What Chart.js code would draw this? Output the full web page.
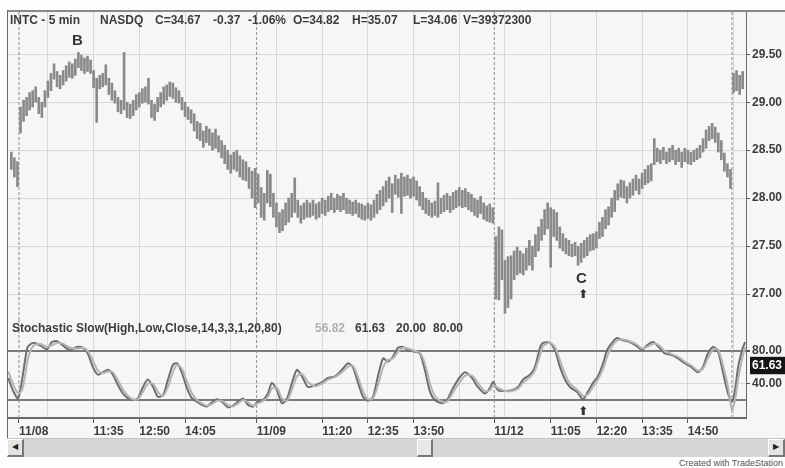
<!DOCTYPE html>
<html>
<head>
<meta charset="utf-8">
<title>INTC - 5 min</title>
<script src="https://cdn.jsdelivr.net/npm/chart.js@4.4.0/dist/chart.umd.min.js"></script>
<style>
body { margin:0; background:#fdfdfd; }
#page { position:relative; width:785px; height:468px; overflow:hidden; font-family:"Liberation Sans", Arial, sans-serif; }
#panel { position:absolute; left:7px; top:12px; width:778px; height:426px; background:#f6f6f6; }
#topLine { position:absolute; left:7px; top:10px; width:778px; height:2px; background:#8a8a8a; }
#leftLine { position:absolute; left:7px; top:10px; width:1px; height:428px; background:#6a6a6a; }
canvas { position:absolute; left:0; }
.txt { position:absolute; white-space:nowrap; font-weight:bold; font-size:12px; line-height:12px; color:#3c3c3c; }
.big { font-size:15px; line-height:16px; color:#333; }
.arrow { font-family:"DejaVu Sans", sans-serif; font-size:12px; line-height:12px; color:#333; }
#scroll { position:absolute; left:7px; top:438px; width:778px; height:19px; background:#d6d6d6; border-top:1px solid #c4c4c4; box-sizing:border-box; }
.btn { position:absolute; top:0; width:17px; height:18px; background:#e4e4e4; border-right:2px solid #777; border-bottom:2px solid #777; border-top:1px solid #fff; border-left:1px solid #fff; box-sizing:border-box; font-family:"DejaVu Sans", sans-serif; font-size:8px; line-height:14px; text-align:center; color:#222; }
#thumb { position:absolute; left:410px; top:0; width:16px; height:18px; background:#e8e8e8; border-right:2px solid #777; border-bottom:2px solid #777; border-top:1px solid #fff; border-left:1px solid #fff; box-sizing:border-box; }
#credit { position:absolute; right:2px; top:458px; font-size:9px; line-height:10px; color:#555; white-space:nowrap; }
</style>
</head>
<body>
<div id="page">
    <div id="panel"></div>
    <div id="topLine"></div>
    <canvas id="canvasPrix" width="785" height="320" style="top:0"></canvas>
    <canvas id="canvasStoch" width="785" height="118" style="top:320px"></canvas>
    <div id="leftLine"></div>

    <div class="txt" style="left:10px;top:14px">INTC - 5 min</div>
    <div class="txt" style="left:100px;top:14px">NASDQ</div>
    <div class="txt" style="left:155px;top:14px">C=34.67</div>
    <div class="txt" style="left:213px;top:14px">-0.37</div>
    <div class="txt" style="left:248px;top:14px">-1.06%</div>
    <div class="txt" style="left:293px;top:14px">O=34.82</div>
    <div class="txt" style="left:352px;top:14px">H=35.07</div>
    <div class="txt" style="left:413px;top:14px">L=34.06</div>
    <div class="txt" style="left:463px;top:14px">V=39372300</div>

    <div class="txt big" style="left:72px;top:32px">B</div>
    <div class="txt big" style="left:576px;top:270px">C</div>
    <div class="txt arrow" style="left:578px;top:288px">&#11014;</div>

    <div class="txt" style="left:12px;top:322px">Stochastic Slow(High,Low,Close,14,3,3,1,20,80)</div>
    <div class="txt" style="left:315px;top:322px;color:#b0b0b0">56.82</div>
    <div class="txt" style="left:355px;top:322px">61.63</div>
    <div class="txt" style="left:396px;top:322px">20.00</div>
    <div class="txt" style="left:433px;top:322px">80.00</div>
    <div class="txt arrow" style="left:578px;top:405px">&#11014;</div>

    <div id="scroll">
        <div class="btn" style="left:0">&#9664;</div>
        <div id="thumb"></div>
        <div class="btn" style="left:761px">&#9654;</div>
    </div>
    <div id="credit">Created with TradeStation</div>
</div>

<script>
// Dates des séances et séparateurs de jours (index de barre)
var dayDates = ["11/08", "11/09", "11/12"];
var daySeps = [2.5, 80.5, 158.5, 236.5];

// Lignes verticales toutes les 15 barres et leurs libellés
var timeTicks = [12, 27, 42, 57, 72, 87, 102, 117, 132, 147, 162, 177, 192, 207, 222, 237];
var timeLabels = ["", "11:35", "12:50", "14:05", "", "", "11:20", "12:35", "13:50", "", "", "11:05", "12:20", "13:35", "14:50", ""];

// Graduations des axes de droite
var priceTicks = [27.00, 27.50, 28.00, 28.50, 29.00, 29.50];
var stochLevels = [20, 40, 80];
var stochLast = 61.63;

// Barres 5 min : plus hauts et plus bas (3 barres veille, 3 x 78 barres, 4 barres lendemain)
var highs = [
    28.48, 28.42, 28.38,
    28.95, 29.02, 29.05, 29.10, 29.12, 29.16, 29.05, 29.00, 29.12, 29.22,
    29.30, 29.40, 29.32, 29.28, 29.33, 29.38, 29.42, 29.40, 29.45, 29.52,
    29.49, 29.46, 29.48, 29.44, 29.33, 29.25, 29.28, 29.30, 29.39, 29.25,
    29.20, 29.12, 29.05, 29.02, 29.52, 29.00, 28.98, 29.02, 29.08, 29.10,
    29.14, 29.16, 29.25, 29.02, 28.98, 29.05, 29.10, 29.16, 29.18, 29.21,
    29.20, 29.15, 29.12, 29.05, 29.00, 28.95, 28.92, 28.88, 28.80, 28.78,
    28.70, 28.75, 28.72, 28.68, 28.72, 28.65, 28.60, 28.55, 28.50, 28.45,
    28.48, 28.50, 28.44, 28.40, 28.38, 28.32, 28.28, 28.31,
    28.25, 28.11, 28.05, 28.29, 28.25, 28.05, 27.95, 27.85, 27.88, 27.95,
    28.00, 28.05, 28.21, 27.98, 27.92, 27.95, 27.98, 27.95, 27.98, 27.94,
    27.96, 28.00, 27.98, 28.02, 28.05, 28.00, 28.04, 28.02, 28.05, 28.00,
    27.98, 27.96, 27.98, 27.95, 27.94, 27.92, 27.95, 27.93, 27.98, 28.04,
    28.08, 28.12, 28.18, 28.22, 28.15, 28.24, 28.20, 28.26, 28.22, 28.24,
    28.20, 28.22, 28.18, 28.12, 28.06, 28.00, 27.98, 27.95, 27.97, 28.16,
    28.00, 28.03, 28.05, 28.02, 28.06, 28.08, 28.11, 28.08, 28.10, 28.06,
    28.04, 28.00, 27.98, 28.02, 27.95, 27.92, 27.94, 27.90,
    27.60, 27.70, 27.67, 27.35, 27.39, 27.40, 27.45, 27.49, 27.45, 27.42,
    27.48, 27.56, 27.50, 27.62, 27.70, 27.78, 27.88, 27.95, 27.90, 27.88,
    27.85, 27.70, 27.63, 27.58, 27.56, 27.52, 27.54, 27.50, 27.53, 27.56,
    27.59, 27.62, 27.63, 27.65, 27.75, 27.80, 27.88, 27.91, 28.00, 28.08,
    28.15, 28.19, 28.18, 28.12, 28.16, 28.20, 28.24, 28.20, 28.26, 28.30,
    28.34, 28.36, 28.62, 28.52, 28.50, 28.53, 28.48, 28.52, 28.55, 28.50,
    28.52, 28.48, 28.52, 28.50, 28.48, 28.50, 28.52, 28.55, 28.62, 28.71,
    28.75, 28.78, 28.74, 28.68, 28.60, 28.47, 28.36, 28.30,
    29.30, 29.33, 29.28, 29.32
];
var lows = [
    28.30, 28.22, 28.12,
    28.68, 28.80, 28.86, 28.92, 28.95, 29.00, 28.88, 28.84, 28.95, 29.05,
    29.12, 29.24, 29.16, 29.14, 29.18, 29.22, 29.26, 29.25, 29.28, 29.36,
    29.33, 29.30, 29.32, 29.30, 29.15, 28.79, 29.14, 29.16, 29.18, 29.08,
    29.02, 28.99, 28.90, 28.88, 28.92, 28.84, 28.83, 28.86, 28.92, 28.95,
    28.99, 29.00, 28.98, 28.84, 28.81, 28.90, 28.95, 28.98, 29.02, 29.06,
    29.04, 29.00, 28.99, 28.92, 28.85, 28.82, 28.78, 28.70, 28.62, 28.60,
    28.53, 28.58, 28.55, 28.50, 28.52, 28.48, 28.42, 28.36, 28.30, 28.26,
    28.30, 28.28, 28.22, 28.19, 28.18, 28.10, 28.00, 27.90,
    27.95, 27.80, 27.77, 27.95, 27.91, 27.80, 27.70, 27.64, 27.66, 27.72,
    27.75, 27.80, 27.85, 27.80, 27.74, 27.78, 27.80, 27.80, 27.82, 27.78,
    27.80, 27.84, 27.82, 27.86, 27.88, 27.85, 27.88, 27.86, 27.88, 27.84,
    27.84, 27.82, 27.84, 27.80, 27.78, 27.77, 27.79, 27.77, 27.80, 27.84,
    27.88, 27.92, 27.96, 28.00, 27.85, 28.04, 28.01, 27.84, 28.02, 28.03,
    28.00, 28.02, 27.98, 27.92, 27.88, 27.84, 27.82, 27.80, 27.82, 27.80,
    27.84, 27.86, 27.88, 27.85, 27.88, 27.90, 27.92, 27.90, 27.91, 27.88,
    27.86, 27.82, 27.80, 27.84, 27.78, 27.76, 27.75, 27.74,
    26.95, 26.94, 27.15, 26.80, 26.86, 26.95, 27.15, 27.20, 27.22, 27.20,
    27.25, 27.30, 27.25, 27.39, 27.45, 27.56, 27.62, 27.68, 27.28, 27.60,
    27.56, 27.48, 27.45, 27.42, 27.40, 27.39, 27.40, 27.30, 27.33, 27.38,
    27.40, 27.45, 27.46, 27.48, 27.58, 27.60, 27.68, 27.72, 27.80, 27.86,
    27.98, 28.01, 28.00, 27.95, 28.00, 28.03, 28.08, 28.04, 28.10, 28.14,
    28.16, 28.18, 28.35, 28.38, 28.36, 28.40, 28.36, 28.38, 28.40, 28.35,
    28.38, 28.32, 28.38, 28.36, 28.35, 28.38, 28.40, 28.42, 28.48, 28.52,
    28.60, 28.62, 28.58, 28.48, 28.40, 28.28, 28.22, 28.10,
    29.10, 29.12, 29.08, 29.14
];

// Stochastique lente : positions (index de barre) et valeurs lues
var stochX = [
    -1, 0.5, 2.2, 3.5, 4.5, 5.4, 7.1, 9.4, 11.7, 13.3, 15, 16.9, 19.2, 21.5, 23.5, 25.1,
    26.8, 28.4, 30.1, 31.7, 33.3, 35, 36.6, 38.3, 39.9, 41.5, 43.2, 44.8, 46.5, 48.1,
    49.8, 51.4, 53, 54.4, 56, 57.6, 59.3, 60.9, 62.5, 64.2, 65.8, 67.5, 69.1, 71.1,
    72.7, 74.4, 76, 77.7, 79.3, 80.9, 82.6, 84.2, 85.5, 87.2, 88.8, 90.5, 92.1, 93.7,
    95.4, 97.3, 99.6, 102, 103.9, 106.2, 108.5, 110.5, 112.1, 113.7, 115.4, 117, 118.7,
    120.3, 122, 123.6, 125.2, 126.9, 128.5, 130.2, 132.5, 134.1, 135.7, 137.4, 139,
    141.3, 143, 144.6, 146.6, 148.9, 151.2, 153.1, 155.4, 157.1, 158.1, 159.7, 162,
    164.3, 166.3, 167.9, 170.2, 171.8, 173.5, 174.5, 176.8, 178.4, 180.1, 181.7, 183.3,
    185.6, 187.6, 189.2, 190.9, 192.5, 194.2, 195.5, 197.1, 198.8, 200.7, 203, 205.3,
    207, 208.6, 210.6, 212.2, 214.5, 216.8, 218.8, 221, 223.3, 225.3, 226.9, 228.6,
    230.3, 231.9, 233.6, 235.2, 236.5, 237.5, 238.5, 239.8, 240.8
];
var stochK = [
    47, 32, 22, 44, 69, 85, 90, 87, 82, 91, 92, 87, 81, 85, 84, 77,
    60, 51, 54, 57, 51, 38, 28, 22, 20, 22, 36, 45, 36, 24,
    26, 45, 63, 65, 53, 35, 22, 18, 14, 12, 17, 21, 18, 11,
    13, 18, 22, 14, 12, 18, 20, 28, 41, 32, 16, 22, 41, 57,
    49, 36, 38, 42, 47, 49, 57, 65, 60, 42, 24, 19, 24,
    49, 71, 67, 73, 84, 85, 81, 79, 77, 57, 30, 20,
    16, 20, 32, 45, 54, 47, 36, 28, 35, 42, 32, 31,
    32, 36, 45, 51, 60, 84, 90, 90, 81, 60, 45, 36,
    30, 21, 30, 41, 49, 65, 81, 90, 96, 93, 91, 86,
    81, 87, 91, 86, 77, 75, 71, 65, 60, 54, 60, 77,
    85, 80, 53, 28, 18, 32, 60, 81, 91
];
var stochD = [
    55, 40, 28, 32, 50, 70, 86, 89, 85, 87, 90, 89, 84, 83, 84, 80,
    68, 56, 53, 55, 54, 44, 33, 25, 21, 21, 30, 40, 40, 30,
    25, 36, 54, 63, 58, 43, 28, 20, 16, 13, 15, 19, 19, 14,
    12, 16, 20, 17, 13, 16, 19, 24, 34, 35, 22, 19, 33, 49,
    52, 42, 37, 40, 45, 48, 54, 61, 62, 49, 31, 21, 22,
    38, 60, 69, 71, 79, 84, 83, 80, 78, 65, 40, 25,
    18, 18, 27, 39, 50, 50, 41, 31, 32, 38, 35, 31,
    31, 34, 41, 48, 56, 75, 86, 90, 85, 68, 52, 40,
    33, 25, 27, 36, 45, 58, 73, 86, 93, 94, 92, 88,
    83, 85, 89, 88, 80, 76, 73, 67, 62, 56, 58, 71,
    82, 82, 62, 36, 8, 20, 45, 70, 85
];

Chart.defaults.font.family = "'Liberation Sans', Arial, sans-serif";
Chart.defaults.font.size = 12;
Chart.defaults.font.weight = "bold";
Chart.defaults.color = "#3c3c3c";

// Graduations de l'axe du temps : dates en début de séance + lignes toutes les 15 barres
function BuildTimeTicks(scale)
{
    var ticks = [];
    for (var i = 0; i < dayDates.length; i++)
    {
        ticks.push({ value: daySeps[i], txt: dayDates[i], day: true });
    }
    for (var j = 0; j < timeTicks.length; j++)
    {
        ticks.push({ value: timeTicks[j], txt: timeLabels[j], day: false });
    }
    ticks.sort(function(a, b) { return a.value - b.value; });
    scale.ticks = ticks;
}

// Lignes pointillées de séparation des jours
function SeparatorDatasets(yMin, yMax)
{
    var sets = [];
    for (var i = 0; i < daySeps.length; i++)
    {
        sets.push({
            type: "line",
            data: [{ x: daySeps[i], y: yMin }, { x: daySeps[i], y: yMax }],
            borderColor: "#8c8c8c",
            borderWidth: 1,
            borderDash: [3, 2],
            pointRadius: 0
        });
    }
    return sets;
}

function DessinerPrix()
{
    var barres = [];
    for (var i = 0; i < highs.length; i++)
    {
        barres.push({ x: i, y: [lows[i], highs[i]] });
    }

    var yMin = 26.73, yMax = 29.94;
    var datasets = [{
        type: "bar",
        data: barres,
        backgroundColor: "#8a8a8a",
        barThickness: 2
    }].concat(SeparatorDatasets(yMin, yMax));

    new Chart(document.getElementById("canvasPrix"), {
        type: "bar",
        data: { datasets: datasets },
        options: {
            responsive: false,
            animation: false,
            layout: { padding: { left: 8, top: 12, right: 0, bottom: 0 } },
            plugins: { legend: { display: false }, tooltip: { enabled: false } },
            scales: {
                x: {
                    type: "linear",
                    offset: false,
                    min: -1.1,
                    max: 241.1,
                    afterBuildTicks: BuildTimeTicks,
                    afterFit: function(s) { s.height = 0; s.paddingLeft = 0; s.paddingRight = 0; },
                    ticks: { display: false, autoSkip: false },
                    border: { display: false },
                    grid: {
                        offset: false,
                        drawTicks: false,
                        color: function(ctx) { return ctx.tick && ctx.tick.day ? "rgba(0,0,0,0)" : "#d8d8d8"; }
                    }
                },
                y: {
                    position: "right",
                    min: yMin,
                    max: yMax,
                    afterBuildTicks: function(s) { s.ticks = priceTicks.map(function(v) { return { value: v }; }); },
                    afterFit: function(s) { s.width = 39; s.paddingTop = 0; s.paddingBottom = 0; },
                    ticks: {
                        autoSkip: false,
                        padding: 2,
                        callback: function(v) { return v.toFixed(2); }
                    },
                    border: { display: true, color: "#6a6a6a", width: 1 },
                    grid: { color: "#d8d8d8", tickLength: 4, tickColor: "#555" }
                }
            }
        }
    });
}

function DessinerStochastique()
{
    var ptsK = [], ptsD = [];
    for (var i = 0; i < stochX.length; i++)
    {
        ptsK.push({ x: stochX[i], y: stochK[i] });
        ptsD.push({ x: stochX[i], y: stochD[i] });
    }

    var yMin = -2, yMax = 118;
    var datasets = [
        { data: ptsD, borderColor: "#b4b4b4", borderWidth: 2, pointRadius: 0, tension: 0.25 },
        { data: ptsK, borderColor: "#6e6e6e", borderWidth: 2, pointRadius: 0, tension: 0.25 }
    ].concat(SeparatorDatasets(yMin, yMax));

    var yTicks = stochLevels.concat([stochLast]).sort(function(a, b) { return a - b; });

    new Chart(document.getElementById("canvasStoch"), {
        type: "line",
        data: { datasets: datasets },
        options: {
            responsive: false,
            animation: false,
            layout: { padding: { left: 8, top: 0, right: 0, bottom: 0 } },
            plugins: { legend: { display: false }, tooltip: { enabled: false } },
            scales: {
                x: {
                    type: "linear",
                    min: -1.1,
                    max: 241.1,
                    afterBuildTicks: BuildTimeTicks,
                    afterFit: function(s) { s.height = 20; s.paddingLeft = 0; s.paddingRight = 0; },
                    ticks: {
                        autoSkip: false,
                        maxRotation: 0,
                        align: "start",
                        padding: 1,
                        callback: function(v, idx, ticks) { return ticks[idx].txt; }
                    },
                    border: { display: true, color: "#6a6a6a", width: 2 },
                    grid: {
                        tickLength: 5,
                        color: function(ctx) { return ctx.tick && ctx.tick.day ? "rgba(0,0,0,0)" : "#d8d8d8"; },
                        tickColor: function(ctx) { return ctx.tick && ctx.tick.txt ? "#555" : "rgba(0,0,0,0)"; }
                    }
                },
                y: {
                    position: "right",
                    min: yMin,
                    max: yMax,
                    afterBuildTicks: function(s) { s.ticks = yTicks.map(function(v) { return { value: v }; }); },
                    afterFit: function(s) { s.width = 39; s.paddingTop = 0; s.paddingBottom = 0; },
                    ticks: {
                        autoSkip: false,
                        padding: 2,
                        callback: function(v) { return v === 20 ? "" : v.toFixed(2); },
                        color: function(ctx) { return ctx.tick && ctx.tick.value === stochLast ? "#ffffff" : "#3c3c3c"; },
                        showLabelBackdrop: function(ctx) { return ctx.tick && ctx.tick.value === stochLast; },
                        backdropColor: "#151515",
                        backdropPadding: { left: 2, right: 4, top: 2, bottom: 1 }
                    },
                    border: { display: true, color: "#6a6a6a", width: 1 },
                    grid: {
                        tickLength: 4,
                        color: function(ctx) {
                            var v = ctx.tick ? ctx.tick.value : 0;
                            if (v === 20 || v === 80) return "#7a7a7a";
                            if (v === 40) return "#d8d8d8";
                            return "rgba(0,0,0,0)";
                        },
                        lineWidth: function(ctx) {
                            var v = ctx.tick ? ctx.tick.value : 0;
                            return (v === 20 || v === 80) ? 2 : 1;
                        },
                        tickColor: function(ctx) {
                            var v = ctx.tick ? ctx.tick.value : 0;
                            return (v === 40 || v === 80) ? "#555" : "rgba(0,0,0,0)";
                        }
                    }
                }
            }
        }
    });
}

DessinerPrix();
DessinerStochastique();
</script>
</body>
</html>
